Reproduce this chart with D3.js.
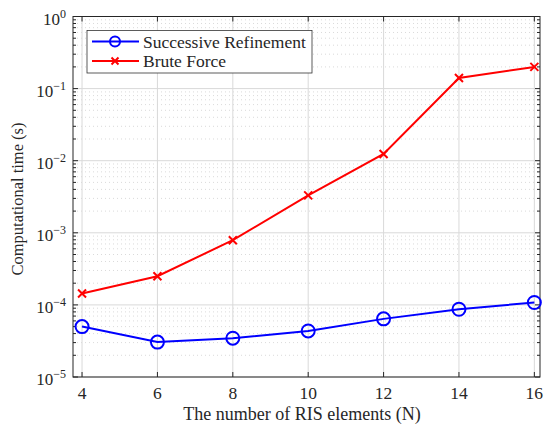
<!DOCTYPE html>
<html><head><meta charset="utf-8">
<script src="https://cdn.jsdelivr.net/npm/d3@7"></script>
<style>body{margin:0;background:#fff}svg{display:block}</style>
</head><body>
<svg id="c" width="550" height="435"></svg>
<script>
const N = [4, 6, 8, 10, 12, 14, 16];
const successive = [5.0e-5, 3.05e-5, 3.45e-5, 4.35e-5, 6.4e-5, 8.7e-5, 1.08e-4];
const brute = [1.44e-4, 2.5e-4, 7.9e-4, 3.3e-3, 1.24e-2, 0.14, 0.2];
const xTicks = [4, 6, 8, 10, 12, 14, 16];
const yExps = [-5, -4, -3, -2, -1, 0];
const seriesNames = ["Successive Refinement", "Brute Force"];

const svg = d3.select("#c");
const L = 73, R = 540, T = 16.5, B = 377;
const x = d3.scaleLinear().domain([3.76, 16.15]).range([L, R]);
const y = d3.scaleLog().domain([1e-5, 1]).range([B, T]);
const font = "'Liberation Serif','Times New Roman',serif";

// minor grid (dotted)
const minors = [];
for (let e = -5; e < 0; e++) for (let k = 2; k <= 9; k++) minors.push(k * Math.pow(10, e));
svg.append("g").selectAll("line").data(minors).join("line")
  .attr("x1", L).attr("x2", R).attr("y1", d => y(d)).attr("y2", d => y(d))
  .attr("stroke", "#d0d0d0").attr("stroke-width", 0.8).attr("stroke-dasharray", "1,3");
// major grid
svg.append("g").selectAll("line").data(yExps).join("line")
  .attr("x1", L).attr("x2", R).attr("y1", d => y(Math.pow(10, d))).attr("y2", d => y(Math.pow(10, d)))
  .attr("stroke", "#d9d9d9").attr("stroke-width", 1);
svg.append("g").selectAll("line").data(xTicks).join("line")
  .attr("x1", d => x(d)).attr("x2", d => x(d)).attr("y1", T).attr("y2", B)
  .attr("stroke", "#d9d9d9").attr("stroke-width", 1);

// axes ticks (inward)
const ax = svg.append("g").attr("stroke", "#262626").attr("stroke-width", 1);
xTicks.forEach(t => {
  ax.append("line").attr("x1", x(t)).attr("x2", x(t)).attr("y1", B).attr("y2", B - 5);
  ax.append("line").attr("x1", x(t)).attr("x2", x(t)).attr("y1", T).attr("y2", T + 5);
});
yExps.forEach(e => {
  const yy = y(Math.pow(10, e));
  ax.append("line").attr("x1", L).attr("x2", L + 5).attr("y1", yy).attr("y2", yy);
  ax.append("line").attr("x1", R).attr("x2", R - 5).attr("y1", yy).attr("y2", yy);
});
minors.forEach(m => {
  const yy = y(m);
  ax.append("line").attr("x1", L).attr("x2", L + 3).attr("y1", yy).attr("y2", yy);
  ax.append("line").attr("x1", R).attr("x2", R - 3).attr("y1", yy).attr("y2", yy);
});
svg.append("rect").attr("x", L).attr("y", T).attr("width", R - L).attr("height", B - T)
  .attr("fill", "none").attr("stroke", "#262626").attr("stroke-width", 1);

// tick labels
svg.append("g").selectAll("text").data(xTicks).join("text")
  .attr("x", d => x(d)).attr("y", 399).attr("text-anchor", "middle")
  .attr("font-family", font).attr("font-size", 17.5).attr("fill", "#262626").text(d => d);
const yl = svg.append("g").selectAll("text").data(yExps).join("text")
  .attr("x", 66).attr("y", d => y(Math.pow(10, d)) + 8).attr("text-anchor", "end")
  .attr("font-family", font).attr("font-size", 17).attr("fill", "#262626");
yl.append("tspan").text("10");
yl.append("tspan").attr("dy", -7).attr("font-size", 12).text(d => d === 0 ? "0" : "\u2212" + (-d));

// axis titles
svg.append("text").attr("x", 302).attr("y", 420).attr("text-anchor", "middle")
  .attr("font-family", font).attr("font-size", 18).attr("fill", "#262626")
  .text("The number of RIS elements (N)");
svg.append("text").attr("transform", `translate(23,199) rotate(-90)`)
  .attr("text-anchor", "middle").attr("font-family", font).attr("font-size", 16.5).attr("fill", "#262626")
  .text("Computational time (s)");

// lines
const line = d3.line().x((d, i) => x(N[i])).y(d => y(d));
const blue = "#0000ff", red = "#ff0000";
svg.append("path").datum(successive).attr("d", line).attr("fill", "none").attr("stroke", blue).attr("stroke-width", 2);
svg.append("path").datum(brute).attr("d", line).attr("fill", "none").attr("stroke", red).attr("stroke-width", 2);
svg.append("g").selectAll("circle").data(successive).join("circle")
  .attr("cx", (d, i) => x(N[i])).attr("cy", d => y(d)).attr("r", 6.5)
  .attr("fill", "none").attr("stroke", blue).attr("stroke-width", 2);
function cross(g, cx, cy, s) {
  g.append("path").attr("d", `M${cx - s},${cy - s}L${cx + s},${cy + s}M${cx - s},${cy + s}L${cx + s},${cy - s}`)
    .attr("stroke", red).attr("stroke-width", 2).attr("fill", "none");
}
const cg = svg.append("g");
brute.forEach((d, i) => cross(cg, x(N[i]), y(d), 4));

// legend
const lg = svg.append("g");
lg.append("rect").attr("x", 87).attr("y", 30.5).attr("width", 225).attr("height", 42.5)
  .attr("fill", "#fff").attr("stroke", "#333").attr("stroke-width", 0.8);
[[blue, 41.5], [red, 61]].forEach(([c, yy], i) => {
  lg.append("line").attr("x1", 92).attr("x2", 139).attr("y1", yy).attr("y2", yy).attr("stroke", c).attr("stroke-width", 2);
  lg.append("text").attr("x", 143).attr("y", yy + 6).attr("font-family", font).attr("font-size", 17.5)
    .attr("fill", "#262626").text(seriesNames[i]);
});
lg.append("circle").attr("cx", 115).attr("cy", 41.5).attr("r", 5).attr("fill", "none").attr("stroke", blue).attr("stroke-width", 2);
cross(lg, 115, 61, 3.5);
</script>
</body></html>
